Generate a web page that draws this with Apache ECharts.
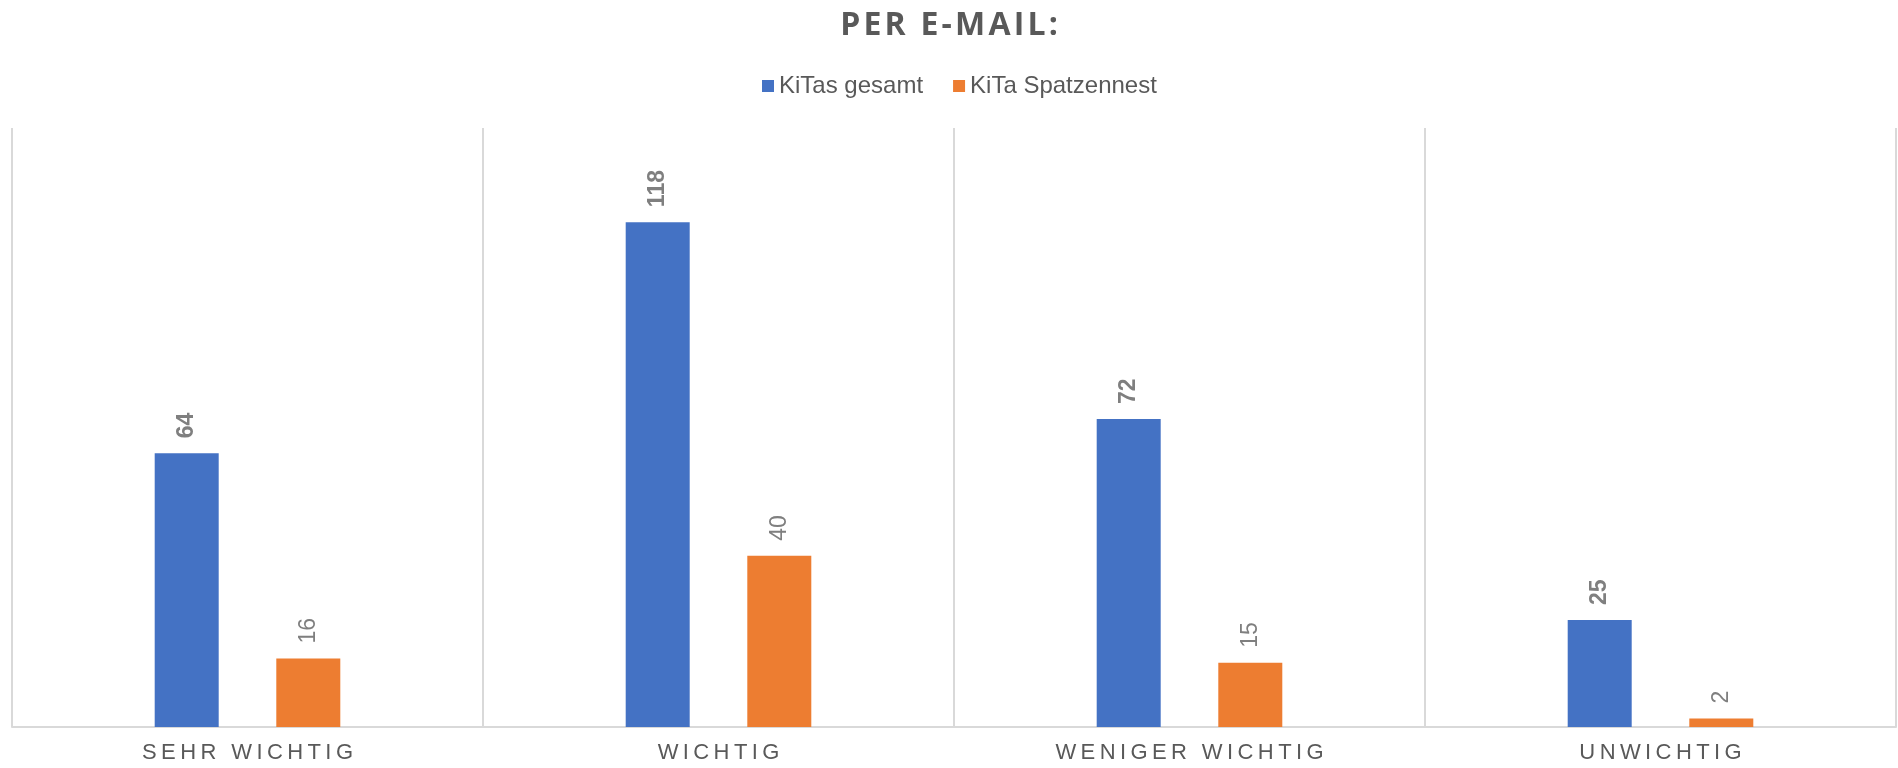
<!DOCTYPE html>
<html>
<head>
<meta charset="utf-8">
<script src="https://cdn.jsdelivr.net/npm/echarts@6/dist/echarts.min.js"></script>
<style>
  html, body { margin: 0; padding: 0; background: #fff; }
  #main { width: 1898px; height: 768px; }
</style>
</head>
<body>
<div id="main"></div>
<script>
var categories = ['SEHR WICHTIG', 'WICHTIG', 'WENIGER WICHTIG', 'UNWICHTIG'];
var kitasGesamt = [64, 118, 72, 25];
var kitaSpatzennest = [16, 40, 15, 2];

// spread letters apart a little, like the original layout
function spaced(s, sp) {
    return s.split('').join(sp);
}

var chart = echarts.init(document.getElementById('main'));

chart.setOption({
    animation: false,
    color: ['#4472C4', '#ED7D31'],
    title: {
        text: spaced('PER E-MAIL:', '\u200A'),
        left: 'center',
        top: 5,
        textStyle: {
            fontFamily: 'Open Sans',
            fontWeight: 'bold',
            fontSize: 32,
            color: '#595959'
        }
    },
    legend: {
        top: 69,
        left: 757,
        itemWidth: 12,
        itemHeight: 12,
        itemGap: 30,
        icon: 'rect',
        textStyle: {
            fontFamily: 'Liberation Sans, Arial',
            fontSize: 24,
            color: '#595959'
        }
    },
    grid: {
        left: 12,
        right: 2,
        top: 128,
        bottom: 41,
        containLabel: false,
        outerBoundsMode: 'none'
    },
    xAxis: {
        type: 'category',
        data: categories,
        axisTick: { show: false },
        axisLine: { lineStyle: { color: '#d9d9d9', width: 2 } },
        splitLine: { show: true, interval: 0, lineStyle: { color: '#d9d9d9', width: 2 } },
        axisLabel: {
            margin: 15,
            fontFamily: 'Liberation Sans, Arial',
            fontSize: 22,
            color: '#595959',
            formatter: function (v) { return spaced(v, '\u2009'); }
        }
    },
    yAxis: {
        type: 'value',
        min: 0,
        max: 140,
        show: false,
        splitLine: { show: false }
    },
    series: [{
        name: 'KiTas gesamt',
        type: 'bar',
        data: kitasGesamt,
        barWidth: 64,
        barGap: '90%',
        label: {
            show: true,
            position: 'top',
            rotate: 90,
            align: 'left',
            verticalAlign: 'middle',
            distance: 15,
            fontFamily: 'Liberation Sans, Arial',
            fontWeight: 'bold',
            fontSize: 23,
            color: '#7f7f7f'
        }
    }, {
        name: 'KiTa Spatzennest',
        type: 'bar',
        data: kitaSpatzennest,
        barWidth: 64,
        label: {
            show: true,
            position: 'top',
            rotate: 90,
            align: 'left',
            verticalAlign: 'middle',
            distance: 15,
            fontFamily: 'Liberation Sans, Arial',
            fontSize: 23,
            color: '#7f7f7f'
        }
    }]
});
</script>
</body>
</html>
